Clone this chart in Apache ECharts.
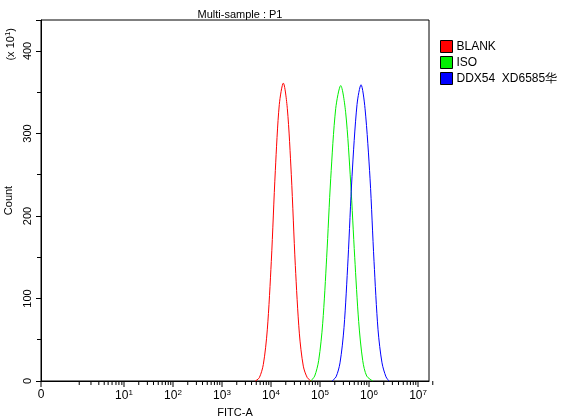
<!DOCTYPE html>
<html><head><meta charset="utf-8">
<script src="https://cdn.jsdelivr.net/npm/echarts@6/dist/echarts.min.js"></script>
<style>html,body{margin:0;padding:0;background:#fff}#c{width:566px;height:420px}</style>
</head><body><div id="c"></div>
<script>
// x values are in display-decade units: 0 -> "0", k+0.694 -> 10^k
const seriesNames = ['BLANK', 'ISO', 'DDX54  XD6585华'];
const colors = ['#ff0000', '#00ee00', '#0000ff'];
const redX = [4.374,4.455,4.537,4.618,4.700,4.782,4.863,4.945,5.027,5.108,5.190,5.272,5.353,5.435,5.516];
const redY = [0,4,20,62,145,255,335,361,330,250,140,58,18,4,0];
const greenX = [5.504,5.585,5.667,5.749,5.830,5.912,6.014,6.116,6.218,6.320,6.402,6.483,6.565,6.647,6.769];
const greenY = [0,6,25,70,150,245,330,358,325,240,150,72,25,6,0];
const blueX = [5.939,6.021,6.102,6.184,6.266,6.347,6.449,6.531,6.613,6.715,6.796,6.878,6.959,7.041,7.102];
const blueY = [0,5,22,65,148,248,335,359,330,245,145,62,22,5,0];
const majorTickX = [0,1.694,2.694,3.694,4.694,5.694,6.694,7.694];
const majorTickLabels = ['0','10{s|1}','10{s|2}','10{s|3}','10{s|4}','10{s|5}','10{s|6}','10{s|7}'];
const linearMinorX = [0.78,1.02,1.18,1.29,1.37,1.45,1.53,1.59,1.65];
const logMinorFactors = [2,3,4,5,6,7,8,9];

const minorX = linearMinorX.slice();
for (let k = 1; k < 7; k++) for (const f of logMinorFactors) minorX.push(majorTickX[k] + Math.log10(f));
minorX.push(7.694 + Math.log10(2));

const tickData = majorTickX.map((x,i)=>[x,1,i]).concat(minorX.map(x=>[x,0,-1]));
const zip = (a,b)=>a.map((x,i)=>[x,b[i]]);
const font = 'Liberation Sans, Arial, sans-serif';
const chart = echarts.init(document.getElementById('c'));
chart.setOption({
  animation:false,
  title:{text:'Multi-sample : P1',left:235,top:4,textAlign:'center',textStyle:{fontSize:11,fontWeight:'normal',color:'#000',fontFamily:font}},
  grid:{left:41,right:137,top:20,bottom:39,show:true,borderColor:'#000',borderWidth:1,outerBoundsMode:'none',containLabel:false},
  legend:{orient:'vertical',left:440,top:40,padding:0,itemGap:3,itemWidth:12,itemHeight:12,icon:'rect',
    textStyle:{fontSize:12,color:'#000',fontFamily:font,padding:[0,0,0,-1]},data:seriesNames.map((n,i)=>({name:n,itemStyle:{color:colors[i],borderColor:'#000',borderWidth:1}}))},
  xAxis:{type:'value',min:0,max:7.918,axisLine:{lineStyle:{color:'#000'}},axisTick:{show:false},axisLabel:{show:false},splitLine:{show:false},
    name:'FITC-A',nameLocation:'middle',nameGap:26,nameTextStyle:{fontSize:11,color:'#000',fontFamily:font}},
  yAxis:{type:'value',min:0,max:437.5,interval:100,axisLine:{lineStyle:{color:'#000'}},
    axisTick:{length:5,lineStyle:{color:'#000'}},minorTick:{show:true,splitNumber:2,length:4,lineStyle:{color:'#000'}},
    axisLabel:{rotate:90,fontSize:11,color:'#000',fontFamily:font,margin:8,showMaxLabel:false},splitLine:{show:false},
    name:'Count',nameLocation:'middle',nameGap:25,nameTextStyle:{fontSize:11,color:'#000',fontFamily:font}},
  graphic:[{type:'text',left:4,top:28,rotation:Math.PI/2,style:{text:'(x 10{s|1})',fontSize:11,fill:'#000',fontFamily:font,rich:{s:{fontSize:8,verticalAlign:'top',padding:[0,0,6,0]}}}}],
  series:[
    {name:seriesNames[0],type:'line',data:zip(redX,redY),smooth:0.3,symbol:'none',lineStyle:{color:colors[0],width:1},itemStyle:{color:colors[0]}},
    {name:seriesNames[1],type:'line',data:zip(greenX,greenY),smooth:0.3,symbol:'none',lineStyle:{color:colors[1],width:1},itemStyle:{color:colors[1]}},
    {name:seriesNames[2],type:'line',data:zip(blueX,blueY),smooth:0.3,symbol:'none',lineStyle:{color:colors[2],width:1},itemStyle:{color:colors[2]}},
    {type:'custom',silent:true,clip:false,legendHoverLink:false,data:tickData,
     renderItem:(params,api)=>{
       const p = api.coord([api.value(0),0]);
       const major = api.value(1)===1;
       const idx = api.value(2);
       const ch = [{type:'line',shape:{x1:p[0],y1:p[1],x2:p[0],y2:p[1]+(major?6:4)},style:{stroke:'#000',lineWidth:1}}];
       if (major) ch.push({type:'text',x:p[0],y:p[1]+8,style:{text:majorTickLabels[idx],align:'center',verticalAlign:'top',fontSize:12,fill:'#000',fontFamily:font,
         rich:{s:{fontSize:8,verticalAlign:'top',padding:[0,0,6,0]}}}});
       return {type:'group',children:ch};
     }}
  ]
});
</script></body></html>
